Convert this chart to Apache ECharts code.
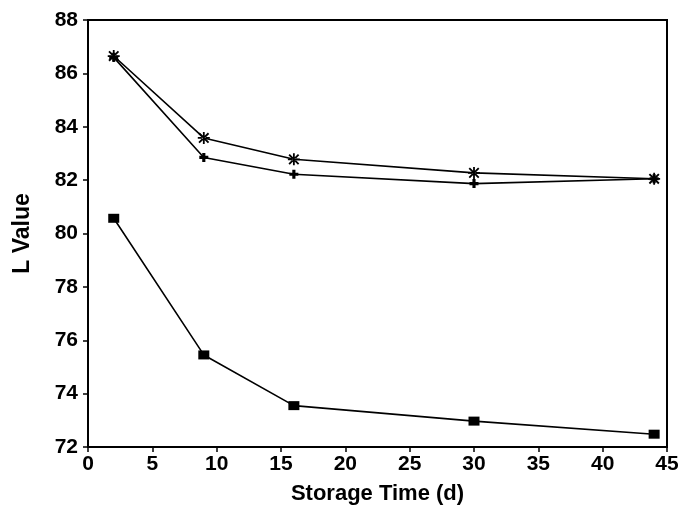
<!DOCTYPE html>
<html>
<head>
<meta charset="utf-8">
<script src="https://cdn.jsdelivr.net/npm/echarts@6/dist/echarts.min.js"></script>
<style>
html,body{margin:0;padding:0;background:#fff;}
#chart{width:678px;height:508px;}
</style>
</head>
<body>
<div id="chart"></div>
<script>
const days = [2, 9, 16, 30, 44];
const starSeries = [86.65, 83.58, 82.78, 82.27, 82.05];
const plusSeries = [86.6, 82.85, 82.22, 81.87, 82.05];
const squareSeries = [80.57, 75.45, 73.55, 72.97, 72.48];
const xTicks = [0, 5, 10, 15, 20, 25, 30, 35, 40, 45];
const yTicks = [72, 74, 76, 78, 80, 82, 84, 86, 88];

const pair = (ys) => days.map((d, i) => [d, ys[i]]);

const asteriskPath = 'path://M8.5,0 L11.5,0 L11.5,20 L8.5,20 Z M1,3.2 L3.2,1 L19,16.8 L16.8,19 Z M16.8,1 L19,3.2 L3.2,19 L1,16.8 Z M0,8.5 L0,11.5 L20,11.5 L20,8.5 Z';
const plusPath = 'path://M6.5,0 L13.5,0 L13.5,6.5 L20,6.5 L20,13.5 L13.5,13.5 L13.5,20 L6.5,20 L6.5,13.5 L0,13.5 L0,6.5 L6.5,6.5 Z';

const font = '"Liberation Sans", Arial, Helvetica, sans-serif';
const chart = echarts.init(document.getElementById('chart'), null, {renderer: 'canvas'});
chart.setOption({
  animation: false,
  backgroundColor: '#fff',
  grid: {left: 88, right: 11, top: 20, bottom: 61, containLabel: false, outerBoundsMode: 'none',
    show: true, borderColor: '#000', borderWidth: 2, backgroundColor: 'transparent'},
  xAxis: {
    type: 'value', min: 0, max: 45, interval: 5,
    name: 'Storage Time (d)', nameLocation: 'middle', nameGap: 36,
    nameTextStyle: {fontFamily: font, fontWeight: 'bold', fontSize: 22, color: '#000'},
    axisLine: {show: true, lineStyle: {color: '#000', width: 2}},
    axisTick: {show: true, inside: false, length: 5, lineStyle: {color: '#000', width: 1.5}},
    axisLabel: {fontFamily: font, fontWeight: 'bold', fontSize: 21, color: '#000', margin: 7,
      formatter: v => xTicks.includes(v) ? String(v) : ''},
    splitLine: {show: false}
  },
  yAxis: {
    type: 'value', min: 72, max: 88, interval: 2,
    name: 'L Value', nameLocation: 'middle', nameGap: 54, nameRotate: 90,
    nameTextStyle: {fontFamily: font, fontWeight: 'bold', fontSize: 23, color: '#000'},
    axisLine: {show: true, lineStyle: {color: '#000', width: 2}},
    axisTick: {show: true, inside: false, length: 5, lineStyle: {color: '#000', width: 1.5}},
    axisLabel: {fontFamily: font, fontWeight: 'bold', fontSize: 21, color: '#000', margin: 10,
      formatter: v => yTicks.includes(v) ? String(v) : ''},
    splitLine: {show: false}
  },
  series: [
    {type: 'line', data: pair(starSeries), symbol: asteriskPath, symbolSize: 12,
      itemStyle: {color: '#000'}, lineStyle: {color: '#000', width: 1.6}, z: 3},
    {type: 'line', data: pair(plusSeries), symbol: plusPath, symbolSize: 9,
      itemStyle: {color: '#000'}, lineStyle: {color: '#000', width: 1.6}, z: 3},
    {type: 'line', data: pair(squareSeries), symbol: 'rect', symbolSize: [11, 9],
      itemStyle: {color: '#000'}, lineStyle: {color: '#000', width: 1.6}, z: 3}
  ]
});
</script>
</body>
</html>
